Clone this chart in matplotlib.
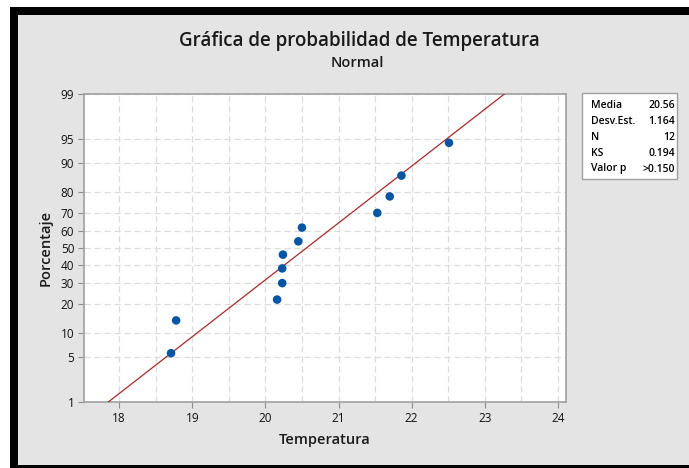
import numpy as np
import matplotlib
matplotlib.use("Agg")
import matplotlib.pyplot as plt
from matplotlib.patches import Rectangle
from statistics import NormalDist

# data (Minitab probability plot)
temperatura = [18.71, 18.78, 20.16, 20.23, 20.23, 20.24, 20.45, 20.50, 21.53, 21.70, 21.86, 22.51]
porcentaje = [5.6, 13.7, 21.8, 29.8, 37.9, 46.0, 54.0, 62.1, 70.2, 78.2, 86.3, 94.4]
y_ticks = [1, 5, 10, 20, 30, 40, 50, 60, 70, 80, 90, 95, 99]
x_ticks = [18, 19, 20, 21, 22, 23, 24]
media = 20.56
desv = 1.164
stat_names = ["Media", "Desv.Est.", "N", "KS", "Valor p"]
stat_values = ["20.56", "1.164", "12", "0.194", ">0.150"]

W, H = 689, 468
nd = NormalDist()

_ppf = np.vectorize(lambda v: nd.inv_cdf(v / 100.0), otypes=[float])
_cdf = np.vectorize(lambda v: nd.cdf(v) * 100.0, otypes=[float])


def fwd(p):
    p = np.clip(np.asarray(p, dtype=float), 1e-6, 100 - 1e-6)
    return _ppf(p)


def inv(z):
    return _cdf(np.asarray(z, dtype=float))


def px(x0, y0, x1, y1):
    # pixel box (from top-left) -> figure fraction rect
    return [x0 / W, 1 - y1 / H, (x1 - x0) / W, (y1 - y0) / H]


plt.rcParams['font.family'] = ['Open Sans', 'DejaVu Sans']

fig = plt.figure(figsize=(W / 100, H / 100), dpi=100, facecolor="white")

# black frame and grey panel
r = px(10, 7, W, H)
fig.patches.append(Rectangle((r[0], r[1]), r[2], r[3], transform=fig.transFigure,
                             facecolor="black", edgecolor="none", zorder=-2))
r = px(18, 15, W, 465)
fig.patches.append(Rectangle((r[0], r[1]), r[2], r[3], transform=fig.transFigure,
                             facecolor="#e4e4e4", edgecolor="none", zorder=-1))

ax = fig.add_axes(px(84, 94, 566, 402))
ax.set_zorder(1)
ax.set_facecolor("white")
ax.set_yscale("function", functions=(fwd, inv))
ax.set_xlim(17.52, 24.11)
ax.set_ylim(1, 99)

# fitted line
line_p = np.array([0.5, 99.5])
line_x = [media + desv * nd.inv_cdf(p / 100) for p in line_p]
ax.plot(line_x, line_p, color="#a52a2a", lw=0.9, zorder=3)

ax.scatter(temperatura, porcentaje, s=38, color="#0455a4", zorder=4, edgecolors="none")

ax.set_yticks(y_ticks)
ax.set_yticklabels([str(t) for t in y_ticks])
ax.set_xticks(x_ticks)
ax.set_xticks(np.arange(18.5, 24.1, 1.0), minor=True)
ax.yaxis.set_minor_locator(matplotlib.ticker.NullLocator())
ax.grid(True, which="both", color="#dcdcdc", linestyle=(0, (5, 3)), lw=0.9)
ax.set_axisbelow(True)
ax.tick_params(which="major", direction="out", length=4, color="#8c8c8c",
               labelsize=8.5, labelcolor="#111111", pad=3)
ax.tick_params(which="minor", length=0)
for s in ax.spines.values():
    s.set_color("#a0a0a0")
    s.set_linewidth(1.2)

ax.set_xlabel("Temperatura", fontsize=10.5, fontweight="semibold", color="#1a1a1a", labelpad=6)
ax.set_ylabel("Porcentaje", fontsize=10.5, fontweight="semibold", color="#1a1a1a", labelpad=6)

fig.text(359 / W, 1 - 41 / H, "Gráfica de probabilidad de Temperatura", ha="center", va="center",
         fontsize=13.5, fontweight="semibold", color="#1a1a1a")
fig.text(357 / W, 1 - 63 / H, "Normal", ha="center", va="center",
         fontsize=10.5, fontweight="semibold", color="#1a1a1a")

# stats box
r = px(582, 93, 677, 179)
fig.patches.append(Rectangle((r[0], r[1]), r[2], r[3], transform=fig.transFigure,
                             facecolor="white", edgecolor="#a0a0a0", lw=1.0, zorder=1))
for i, (n, v) in enumerate(zip(stat_names, stat_values)):
    yy = 1 - (105 + i * 16) / H
    fig.text(591 / W, yy, n, ha="left", va="center", fontsize=7.5, fontweight="semibold")
    fig.text(675 / W, yy, v, ha="right", va="center", fontsize=7.5, fontweight="semibold")

fig.savefig("out.png", dpi=100, facecolor=fig.get_facecolor())
